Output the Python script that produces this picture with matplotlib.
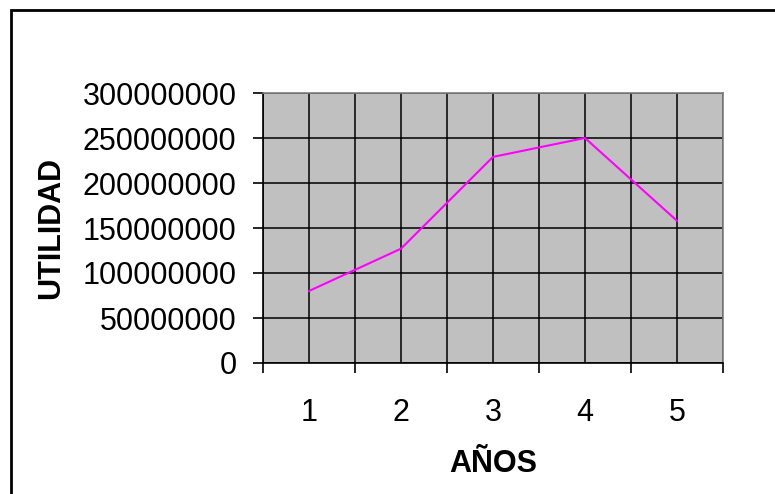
import matplotlib
matplotlib.use("Agg")
import matplotlib.pyplot as plt
from matplotlib.patches import Rectangle

plt.rcParams['font.family'] = ['Liberation Sans', 'DejaVu Sans']

anos = [1, 2, 3, 4, 5]
utilidad = [80000000, 127000000, 229000000, 250000000, 158000000]
y_ticks = [0, 50000000, 100000000, 150000000, 200000000, 250000000, 300000000]


def main():
    fig = plt.figure(figsize=(7.75, 4.94), dpi=100)
    # chart frame (runs off the right and bottom edges like the original)
    fig.patches.append(Rectangle((11 / 775, -0.1), 1.2, 1 - 10 / 494 + 0.1,
                                 transform=fig.transFigure, fill=False,
                                 edgecolor='black', linewidth=2.0))

    ax = fig.add_axes([263 / 775, 1 - 363 / 494, 460 / 775, 270 / 494])
    ax.set_facecolor('#C0C0C0')

    ax.plot(anos, utilidad, color='#FF00FF', linewidth=1.5, zorder=3)

    ax.set_xlim(0.5, 5.5)
    ax.set_ylim(0, 300000000)

    # category boundaries carry the tick marks, centres carry the labels
    ax.set_xticks([a - 0.5 for a in anos] + [anos[-1] + 0.5])
    ax.set_xticklabels([])
    ax.set_xticks(anos, minor=True)
    ax.set_xticklabels([str(a) for a in anos], minor=True)
    ax.tick_params(axis='x', which='major', direction='out', length=7, width=1.2)
    ax.tick_params(axis='x', which='minor', length=0, pad=25, labelsize=22)

    ax.set_yticks(y_ticks)
    ax.set_yticklabels([str(v) for v in y_ticks])
    ax.tick_params(axis='y', direction='out', length=7, width=1.2, pad=12, labelsize=22)

    ax.grid(True, which='both', axis='x', color='black', linewidth=1.1)
    ax.grid(True, which='major', axis='y', color='black', linewidth=1.1)
    ax.set_axisbelow(True)

    for side in ['top', 'right']:
        ax.spines[side].set_color('#808080')
        ax.spines[side].set_linewidth(1.2)
    for side in ['left', 'bottom']:
        ax.spines[side].set_color('black')
        ax.spines[side].set_linewidth(1.2)

    ax.set_xlabel('AÑOS', fontsize=22, fontweight='bold', labelpad=15)
    ax.set_ylabel('UTILIDAD', fontsize=22, fontweight='bold', labelpad=12)

    fig.savefig('out.png', dpi=100)


if __name__ == "__main__":
    main()
